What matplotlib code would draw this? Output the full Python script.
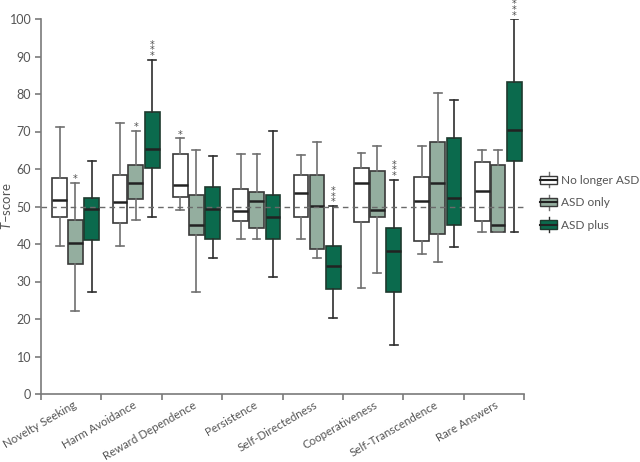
import matplotlib
matplotlib.use("Agg")
import matplotlib.pyplot as plt
import numpy as np
from matplotlib.legend_handler import HandlerBase
from matplotlib.patches import Rectangle
from matplotlib.lines import Line2D

plt.rcParams['font.family'] = ['Lato', 'DejaVu Sans']
plt.rcParams['mathtext.fontset'] = 'custom'
plt.rcParams['mathtext.it'] = 'Lato:italic'
plt.rcParams['mathtext.rm'] = 'Lato'

categories = ["Novelty Seeking", "Harm Avoidance", "Reward Dependence", "Persistence",
              "Self-Directedness", "Cooperativeness", "Self-Transcendence", "Rare Answers"]
groups = ["No longer ASD", "ASD only", "ASD plus"]

# per group: lists over categories
nl_whislo = [39.4, 39.4, 49.2, 41.3, 41.3, 28.2, 37.3, 43.2]
nl_q1     = [47.3, 45.7, 52.5, 46.2, 47.1, 45.9, 40.7, 46.2]
nl_med    = [51.7, 51.3, 55.7, 48.8, 53.7, 56.3, 51.6, 54.1]
nl_q3     = [57.5, 58.4, 64.1, 54.8, 58.4, 60.2, 58.0, 62.0]
nl_whishi = [71.2, 72.2, 68.2, 64.1, 63.8, 64.2, 66.2, 65.1]
nl_sig    = ["", "", "*", "", "", "", "", ""]

ao_whislo = [22.2, 46.3, 27.1, 41.3, 36.2, 32.2, 35.1, 43.1]
ao_q1     = [34.8, 52.0, 42.4, 44.3, 38.6, 47.1, 42.7, 43.1]
ao_med    = [40.2, 56.3, 45.2, 51.4, 50.2, 49.1, 56.3, 45.2]
ao_q3     = [46.3, 61.2, 53.2, 54.0, 58.4, 59.6, 67.3, 61.2]
ao_whishi = [56.3, 70.2, 65.2, 64.1, 67.2, 66.1, 80.2, 65.1]
ao_sig    = ["*", "*", "", "", "", "", "", ""]

ap_whislo = [27.3, 47.2, 36.2, 31.2, 20.2, 13.2, 39.3, 43.2]
ap_q1     = [41.1, 60.3, 41.3, 41.3, 28.1, 27.3, 45.2, 62.2]
ap_med    = [49.3, 65.3, 49.3, 47.2, 34.2, 38.2, 52.2, 70.3]
ap_q3     = [52.2, 75.2, 55.2, 53.2, 39.4, 44.2, 68.3, 83.2]
ap_whishi = [62.2, 89.2, 63.5, 70.1, 50.2, 57.2, 78.3, 100.0]
ap_sig    = ["", "***", "", "", "***", "***", "", "***"]

yticks = [0, 10, 20, 30, 40, 50, 60, 70, 80, 90, 100]

data = [
    (nl_whislo, nl_q1, nl_med, nl_q3, nl_whishi, nl_sig),
    (ao_whislo, ao_q1, ao_med, ao_q3, ao_whishi, ao_sig),
    (ap_whislo, ap_q1, ap_med, ap_q3, ap_whishi, ap_sig),
]
fills = ["#ffffff", "#94ae9f", "#0b6a4d"]
edges = ["#3a3a3a", "#3a3a3a", "#1e3a2e"]
whisk_cols = ["#707070", "#707070", "#2e2e2e"]
offsets = [-0.262, 0.0, 0.272]
text_col = "#555555"
axis_col = "#7a7a7a"

fig = plt.figure(figsize=(6.4, 4.62), dpi=100)
ax = fig.add_axes([41/640, 1-394/462, (524-41)/640, (394-19)/462])

x = np.arange(len(categories))
for g, (lo, q1, med, q3, hi, sig) in enumerate(data):
    stats = []
    for i in range(len(categories)):
        stats.append(dict(med=med[i], q1=q1[i], q3=q3[i], whislo=lo[i], whishi=hi[i], fliers=[]))
    ax.bxp(stats, positions=x + offsets[g], widths=0.245, patch_artist=True,
           showfliers=False, capwidths=0.13, manage_ticks=False,
           boxprops=dict(facecolor=fills[g], edgecolor=edges[g], linewidth=1.2),
           medianprops=dict(color="#222222", linewidth=1.8),
           whiskerprops=dict(color=whisk_cols[g], linewidth=1.2),
           capprops=dict(color=whisk_cols[g], linewidth=1.2))
    for i, s in enumerate(sig):
        if s:
            ax.text(x[i] + offsets[g], hi[i] - 0.4, "\n".join(s), ha="center", va="bottom",
                    fontsize=7, linespacing=0.44, color="#505050", clip_on=False,
                    family="DejaVu Sans")

ax.axhline(50, color="#6a6a6a", linestyle=(0, (4, 3)), linewidth=1.0, zorder=5)

ax.set_xlim(-0.57, len(categories) - 0.57)
ax.set_ylim(0, 100)
ax.set_yticks(yticks)
ax.set_yticklabels([str(t) for t in yticks], fontsize=9, color=text_col)
ax.set_xticks(np.arange(len(categories) + 1) - 0.57)
ax.set_xticklabels([])
ax.set_xticks(x - 0.05, minor=True)
ax.set_xticklabels(categories, minor=True, rotation=30, ha="right", rotation_mode="anchor",
                   fontsize=8.3, color=text_col)
ax.tick_params(axis="x", which="minor", length=0, pad=4)
ax.tick_params(axis="x", which="major", length=4, color=axis_col, width=1.2)
ax.tick_params(axis="y", length=4, color=axis_col, width=1.2, pad=3)
for sp in ["top", "right"]:
    ax.spines[sp].set_visible(False)
for sp in ["left", "bottom"]:
    ax.spines[sp].set_color(axis_col)
    ax.spines[sp].set_linewidth(1.2)

ax.set_ylabel("$T$–score", fontsize=9.5, color=text_col)
ax.yaxis.set_label_coords(-0.058, 0.5)


class BoxHandler(HandlerBase):
    def __init__(self, fc, ec, wc):
        super().__init__()
        self.fc, self.ec, self.wc = fc, ec, wc

    def create_artists(self, legend, orig_handle, xdescent, ydescent, width, height, fontsize, trans):
        w = width
        h = height
        rect = Rectangle((0, 0), w, h, facecolor=self.fc,
                         edgecolor=self.ec, linewidth=1.0, transform=trans)
        med = Line2D([0, w], [h * 0.5, h * 0.5], color="#222222", linewidth=1.5, transform=trans)
        wh = Line2D([w / 2, w / 2], [-0.4 * h, 1.4 * h], color=self.wc, linewidth=1.0, transform=trans)
        return [wh, rect, med]


handles = [Rectangle((0, 0), 1, 1) for _ in groups]
hmap = {handles[g]: BoxHandler(fills[g], edges[g], whisk_cols[g]) for g in range(3)}
leg = fig.legend(handles, groups, handler_map=hmap, loc="upper left",
                 bbox_to_anchor=(540/640, 1 - 175/462), frameon=False, fontsize=8.6,
                 handlelength=1.45, handleheight=0.7, handletextpad=0.3, labelspacing=0.95,
                 borderaxespad=0, borderpad=0)
for t in leg.get_texts():
    t.set_color(text_col)

fig.savefig("out.png", dpi=100)
